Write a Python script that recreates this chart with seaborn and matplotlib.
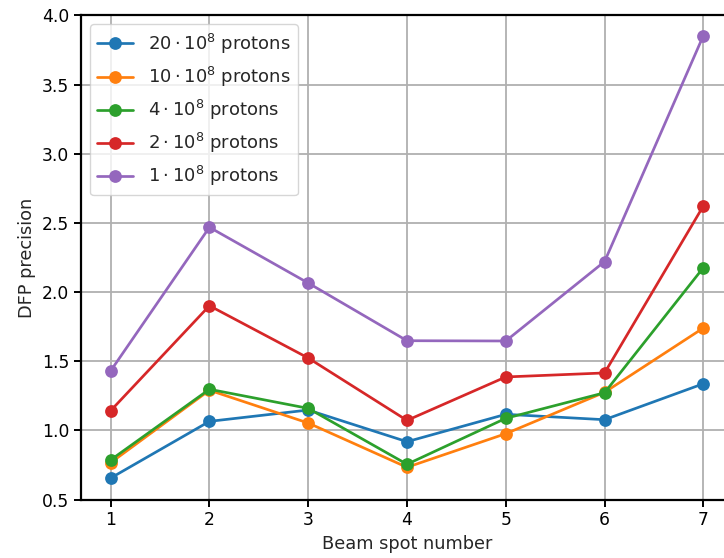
import matplotlib
matplotlib.use("Agg")
import matplotlib.pyplot as plt
import numpy as np
import pandas as pd
import seaborn as sns

# Beam spot numbers and DFP precision for each proton count
SPOTS = [1, 2, 3, 4, 5, 6, 7]
LABELS = [
    r"$20 \cdot 10^8$ protons",
    r"$10 \cdot 10^8$ protons",
    r"$4 \cdot 10^8$ protons",
    r"$2 \cdot 10^8$ protons",
    r"$1 \cdot 10^8$ protons",
]
P20 = [0.655, 1.065, 1.147, 0.918, 1.116, 1.077, 1.337]
P10 = [0.766, 1.290, 1.053, 0.733, 0.976, 1.275, 1.740]
P4 = [0.786, 1.297, 1.159, 0.755, 1.087, 1.272, 2.176]
P2 = [1.142, 1.901, 1.523, 1.072, 1.386, 1.415, 2.622]
P1 = [1.430, 2.468, 2.065, 1.648, 1.646, 2.220, 3.853]

sns.set_theme(style="ticks", rc={
    "axes.edgecolor": "black",
    "xtick.color": "black",
    "ytick.color": "black",
    "axes.labelsize": 12.8,
    "xtick.labelsize": 12.3,
    "ytick.labelsize": 12.3,
    "legend.fontsize": 13,
})
plt.rcParams["font.family"] = ["DejaVu Sans"]

frame = pd.DataFrame({
    "spot": SPOTS * len(LABELS),
    "precision": P20 + P10 + P4 + P2 + P1,
    "series": np.repeat(LABELS, len(SPOTS)),
})

fig = plt.figure(figsize=(7.24, 5.58), dpi=100)
ax = fig.add_axes([0.1119, 0.1048, 0.9005, 0.8677])

sns.lineplot(data=frame, x="spot", y="precision", hue="series", hue_order=LABELS,
             palette="tab10", marker="o", markersize=9.2, markeredgewidth=0,
             linewidth=1.95, ax=ax)

ax.set_xlim(0.7, 7.3)
ax.set_ylim(0.5, 4.0)
ax.set_xticks(SPOTS)
ax.set_yticks(np.arange(0.5, 4.01, 0.5))
ax.grid(True, color="#b0b0b0", linewidth=1.3)
ax.set_axisbelow(True)
ax.tick_params(axis="both", length=5, width=1.4, color="black", labelcolor="black")
for side in ax.spines.values():
    side.set_linewidth(1.6)

ax.set_xlabel("Beam spot number")
ax.set_ylabel("DFP precision")
ax.legend(title=None, loc="upper left", framealpha=0.8, edgecolor="#cccccc")

fig.savefig("out.png", dpi=100)
